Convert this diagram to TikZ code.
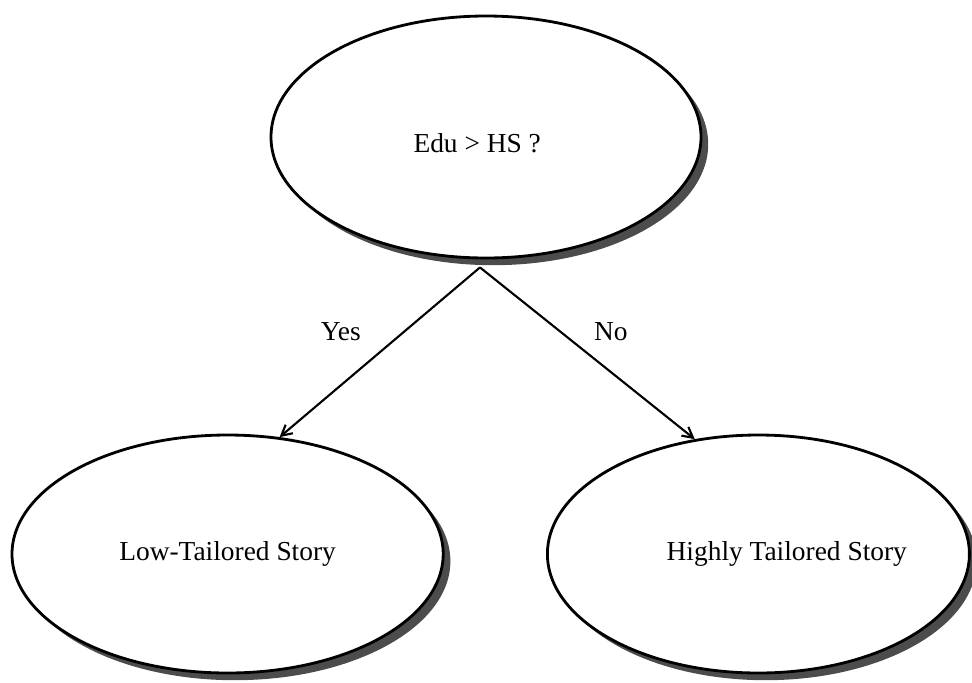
\documentclass[tikz,border=0pt]{standalone}
\usepackage{fontspec}
\setmainfont{Liberation Serif}
\usetikzlibrary{arrows.meta, positioning, shapes.geometric, shadows, calc}

\begin{document}
\begin{tikzpicture}[
  >={Straight Barb[length=2.6mm, width=2.8mm]},
  every node/.style = {font=\fontsize{19.5}{23}\selectfont},
  oval/.style = {draw, ellipse, line width=2pt, fill=white,
                 minimum width=10.75cm, minimum height=6.05cm,
                 drop shadow={shadow xshift=0.18cm, shadow yshift=-0.18cm,
                              fill=black!70, opacity=1}},
  branch/.style = {->, line width=1.5pt},
  lbl/.style = {inner sep=0pt},
]
  \useasboundingbox (0,0) rectangle (24.3,-17.05);

%--- question ---
  \node[oval, label={[xshift=-0.22cm, yshift=-0.15cm]center:Edu > HS ?}] (edu) at (12.15,-3.425) {};

%--- outcomes ---
  \node[oval, minimum width=10.78cm, minimum height=5.95cm] (low) at (5.69,-13.85) {Low-Tailored Story};
  \node[oval, minimum width=10.55cm, minimum height=5.95cm,
        label={[xshift=0.71cm]center:Highly Tailored Story}] (high) at (18.96,-13.85) {};

  \coordinate (apex) at ($(edu.south)+(-0.15,-0.2)$);
  \draw[branch] (apex) -- node[lbl, left=0.45cm, yshift=0.51cm] {Yes} (low.66);
  \draw[branch] (apex) -- node[lbl, right=0.14cm, yshift=0.54cm] {No} (high.119);
\end{tikzpicture}
\end{document}
